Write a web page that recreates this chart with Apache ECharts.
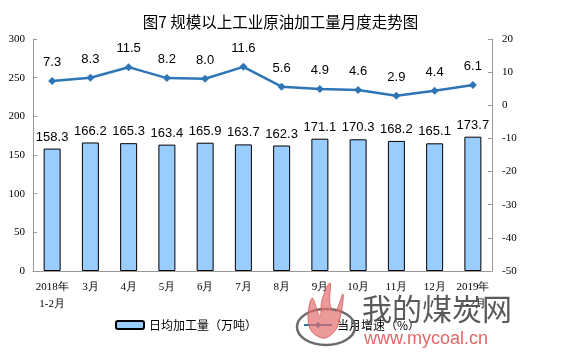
<!DOCTYPE html>
<html><head><meta charset="utf-8">
<script src="https://cdn.jsdelivr.net/npm/echarts@6/dist/echarts.min.js"></script>
<style>html,body{margin:0;padding:0;background:#fff}#c{width:561px;height:357px}</style>
</head><body><div id="c"></div>
<script>
const titleText = '图7 规模以上工业原油加工量月度走势图';
const categories = ['2018年\n1-2月','3月','4月','5月','6月','7月','8月','9月','10月','11月','12月','2019年\n1-2月'];
const dailyOutput = [158.3,166.2,165.3,163.4,165.9,163.7,162.3,171.1,170.3,168.2,165.1,173.7];
const growthRate = [7.3,8.3,11.5,8.2,8.0,11.6,5.6,4.9,4.6,2.9,4.4,6.1];
const barName = '日均加工量（万吨）';
const lineName = '当月增速（%）';

const chart = echarts.init(document.getElementById('c'), null, {renderer:'canvas'});
const axisLabelFont = {fontFamily:'Liberation Serif, serif', fontSize:11, color:'#000'};
chart.setOption({
  animation:false,
  title:{text:titleText,left:'center',top:9,textStyle:{fontSize:15.5,fontWeight:'normal',color:'#000',fontFamily:'Noto Sans CJK SC'}},
  grid:{left:33,right:69,top:39,bottom:86},
  legend:{bottom:21,left:110,itemGap:46,itemWidth:28,itemHeight:8,
    textStyle:{fontSize:12,color:'#000',fontFamily:'Noto Sans CJK SC'},
    data:[{name:barName},{name:lineName}]},
  xAxis:{type:'category',data:categories,
    axisLine:{lineStyle:{color:'#999'}},axisTick:{show:false},
    axisLabel:Object.assign({interval:0,margin:8,lineHeight:17},axisLabelFont)},
  yAxis:[
    {type:'value',min:0,max:300,interval:50,position:'left',
      axisLine:{show:true,lineStyle:{color:'#999'}},
      axisTick:{show:true,inside:true,length:4,lineStyle:{color:'#999'}},
      splitLine:{show:false},axisLabel:Object.assign({margin:8},axisLabelFont)},
    {type:'value',min:-50,max:20,interval:10,position:'right',
      axisLine:{show:true,lineStyle:{color:'#999'}},
      axisTick:{show:true,inside:true,length:4,lineStyle:{color:'#999'}},
      splitLine:{show:false},axisLabel:Object.assign({margin:10},axisLabelFont)}
  ],
  series:[
    {name:barName,type:'bar',data:dailyOutput,barWidth:17,yAxisIndex:0,
      itemStyle:{color:'#99CCFF',borderColor:'#000',borderWidth:1},
      label:{show:true,position:'top',distance:5,fontSize:13,color:'#000',fontFamily:'Liberation Sans, Arial',formatter:p=>p.value.toFixed(1)}},
    {name:lineName,type:'line',data:growthRate,yAxisIndex:1,
      symbol:'diamond',symbolSize:8,
      lineStyle:{color:'#2E75B6',width:2.5},itemStyle:{color:'#2E75B6'},
      label:{show:true,position:'top',distance:8,fontSize:13,color:'#000',fontFamily:'Liberation Sans, Arial',formatter:p=>p.value.toFixed(1)}}
  ],
  graphic:[
    {type:'ellipse',shape:{cx:326,cy:327,rx:29,ry:18},style:{fill:'none',stroke:'#6a6a6a',lineWidth:2.5},z:100},
    {type:'polygon',shape:{smooth:0.4,points:[[322,338],[309,326],[312,298],[320,316],[322,300],[330,283],[330,304],[335,312],[343,294],[340,318],[334,332]]},
      style:{fill:'rgba(226,110,110,0.7)',stroke:'rgba(210,90,90,0.8)',lineWidth:1},z:101},
    {type:'text',left:362,top:294,style:{text:'我的煤炭网',fontSize:30,fill:'#5a5a5a',fontFamily:'Noto Sans CJK SC'},z:100},
    {type:'text',left:364,top:330,style:{text:'www.mycoal.cn',fontSize:18,fill:'#e06868',fontFamily:'Liberation Sans, Arial'},z:100}
  ]
});
</script></body></html>
